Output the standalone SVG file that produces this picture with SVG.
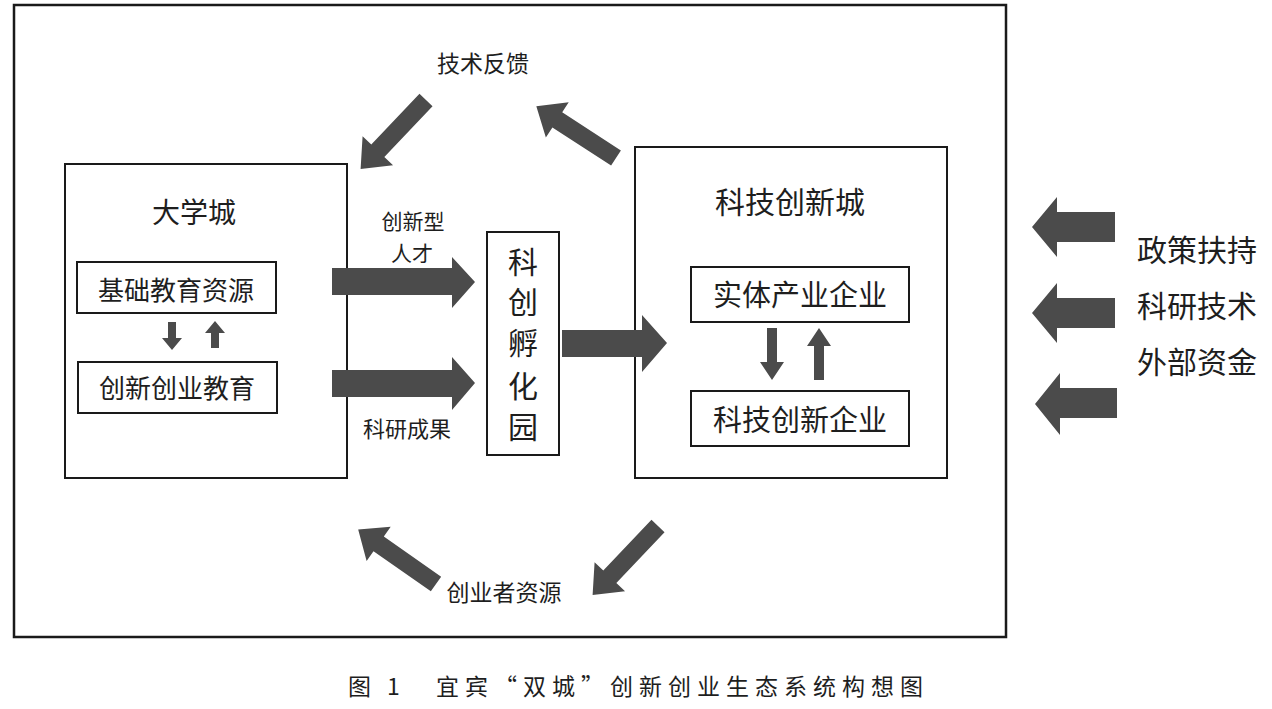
<svg xmlns="http://www.w3.org/2000/svg" width="1272" height="709" viewBox="0 0 1272 709">
<style>
.box{fill:#fff;stroke:#1a1a1a;stroke-width:2}
.frame{fill:#fff;stroke:#1a1a1a;stroke-width:2.5}
.t{font-family:"Noto Sans CJK SC","Noto Sans",sans-serif;fill:#1e1e1e;text-anchor:middle}
.ar{fill:#4b4b4b}
</style>
<defs>
<polygon id="diag" points="0,-9 70,-9 70,-21 95,0 70,21 70,9 0,9"/>
</defs>
<rect width="1272" height="709" fill="#fff"/>
<rect id="frame" class="frame" x="14" y="5" width="992" height="632"/>

<g id="daxuecheng">
<rect class="box" x="65" y="164" width="282" height="314"/>
<text class="t" x="194" y="223" font-size="28">大学城</text>
</g>
<g id="jichu">
<rect class="box" x="77" y="262" width="199" height="51"/>
<text class="t" x="176" y="300" font-size="26">基础教育资源</text>
</g>
<g id="chuangye">
<rect class="box" x="78" y="362" width="199" height="51"/>
<text class="t" x="177" y="398" font-size="26">创新创业教育</text>
</g>
<g id="fuhuayuan">
<rect class="box" x="487" y="232" width="72" height="223"/>
<text class="t" x="523" y="273" font-size="30">科</text>
<text class="t" x="523" y="313" font-size="30">创</text>
<text class="t" x="523" y="354" font-size="30">孵</text>
<text class="t" x="523" y="397" font-size="30">化</text>
<text class="t" x="523" y="438" font-size="30">园</text>
</g>
<g id="kejicheng">
<rect class="box" x="635" y="147" width="312" height="331"/>
<text class="t" x="790" y="213" font-size="30">科技创新城</text>
</g>
<g id="shiti">
<rect class="box" x="691" y="267" width="218" height="55"/>
<text class="t" x="800" y="306" font-size="29">实体产业企业</text>
</g>
<g id="kejiqiye">
<rect class="box" x="691" y="391" width="218" height="55"/>
<text class="t" x="800" y="431" font-size="29">科技创新企业</text>
</g>

<g id="connectors">
<!-- small arrows left -->
<polygon class="ar" points="168,322 176,322 176,338 182,338 172,350 162,338 168,338"/>
<polygon class="ar" points="211,348 219,348 219,333 225,333 215,321 205,333 211,333"/>
<!-- small arrows right -->
<polygon class="ar" points="767,328 777,328 777,362 784,362 772,380 760,362 767,362"/>
<polygon class="ar" points="814,380 824,380 824,346 831,346 819,328 807,346 814,346"/>
<!-- horizontal big arrows -->
<polygon class="ar" points="332,268 452,268 452,257 475,282 452,308 452,295 332,295"/>
<polygon class="ar" points="332,370 452,370 452,357 475,383 452,410 452,397 332,397"/>
<polygon class="ar" points="562,330 642,330 642,315 667,343 642,372 642,357 562,357"/>
<!-- right side incoming arrows -->
<polygon class="ar" points="1115,212 1057,212 1057,197 1032,227 1057,257 1057,242 1115,242"/>
<polygon class="ar" points="1115,298 1057,298 1057,283 1032,313 1057,343 1057,328 1115,328"/>
<polygon class="ar" points="1117,388 1060,388 1060,373 1035,404 1060,435 1060,418 1117,418"/>
<!-- diagonal arrows -->
<use href="#diag" class="ar" transform="translate(426,100) rotate(133.5)"/>
<use href="#diag" class="ar" transform="translate(616,158) rotate(213)"/>
<use href="#diag" class="ar" transform="translate(436,584) rotate(215)"/>
<use href="#diag" class="ar" transform="translate(658,526) rotate(133.5)"/>
</g>

<g id="labels">
<text class="t" x="483" y="72" font-size="23">技术反馈</text>
<text class="t" x="413" y="229" font-size="21">创新型</text>
<text class="t" x="412" y="261" font-size="21">人才</text>
<text class="t" x="407" y="437" font-size="22">科研成果</text>
<text class="t" x="504" y="601" font-size="23">创业者资源</text>
<text class="t" x="1197" y="261" font-size="30">政策扶持</text>
<text class="t" x="1197" y="317" font-size="30">科研技术</text>
<text class="t" x="1197" y="373" font-size="30">外部资金</text>
</g>

<g id="caption">
<text class="t" x="348" y="695" font-size="23" style="text-anchor:start">图</text>
<text class="t" x="387" y="695" font-size="23" style="text-anchor:start">1</text>
<text class="t" x="436" y="695" font-size="23" letter-spacing="6" style="text-anchor:start">宜宾“双城”创新创业生态系统构想图</text>
</g>
</svg>
